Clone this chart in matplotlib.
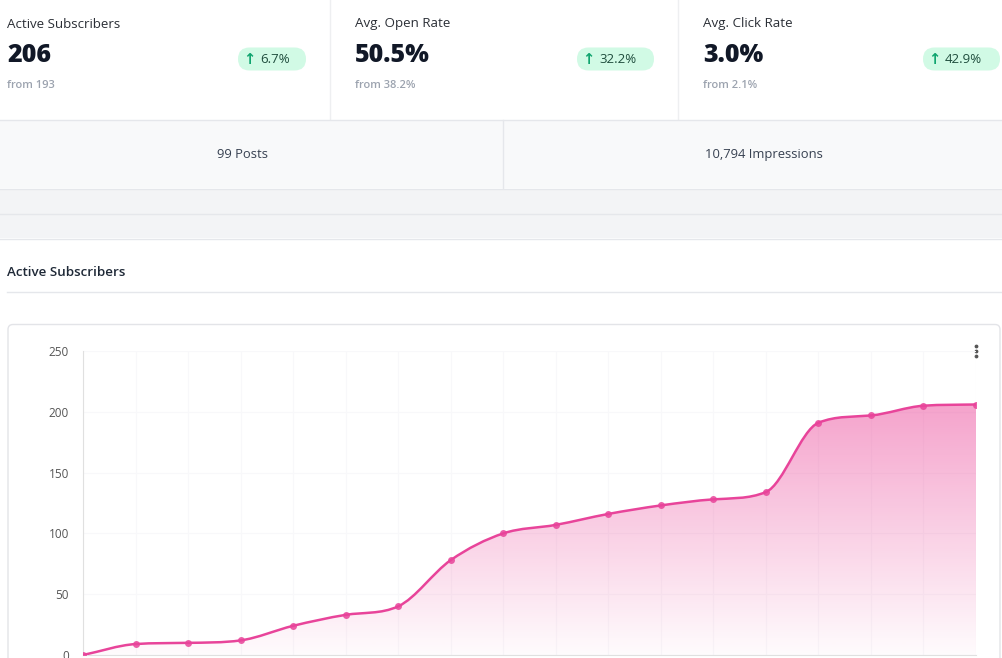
import numpy as np
import matplotlib
matplotlib.use("Agg")
import matplotlib.pyplot as plt
from matplotlib.patches import Rectangle, FancyBboxPatch, PathPatch
from matplotlib.path import Path

plt.rcParams['font.family'] = ['Open Sans', 'DejaVu Sans']

# --- data ---
card_titles = ["Active Subscribers", "Avg. Open Rate", "Avg. Click Rate"]
card_values = ["206", "50.5%", "3.0%"]
card_from = ["from 193", "from 38.2%", "from 2.1%"]
card_change = ["6.7%", "32.2%", "42.9%"]
summary_labels = ["99 Posts", "10,794 Impressions"]
chart_title = "Active Subscribers"

subscribers = [0, 9, 10, 12, 24, 33, 40, 78, 100, 107, 116, 123, 128, 134, 191, 197, 205, 206]
y_ticks = [0, 50, 100, 150, 200, 250]

PINK = "#e8449a"
W, H = 1002, 658

fig = plt.figure(figsize=(W / 100, H / 100), dpi=100)
fig.patch.set_facecolor("white")

# background axes in pixel coordinates for the dashboard chrome
bg = fig.add_axes([0, 0, 1, 1])
bg.set_xlim(0, W)
bg.set_ylim(H, 0)
bg.axis("off")

line_c = "#e5e7eb"

# top stat cards
card_x = [7, 355, 703]
badge_x = [(238, 306), (577, 654), (923, 1000)]
for i in range(3):
    x0 = card_x[i]
    bg.text(x0, 24, card_titles[i], fontsize=9.6, color="#2b2f36", va="center", ha="left")
    bg.text(x0, 56, card_values[i], fontsize=18, fontweight="heavy", color="#111827",
            va="center", ha="left")
    bg.text(x0, 85, card_from[i], fontsize=8, fontweight="semibold", color="#9ca3af",
            va="center", ha="left")
    bx0, bx1 = badge_x[i]
    pill = FancyBboxPatch((bx0, 47.5), bx1 - bx0, 23,
                          boxstyle="round,pad=0,rounding_size=11.5",
                          fc="#d1fae5", ec="none")
    bg.add_patch(pill)
    bg.text(bx0 + 11, 59.5, "↑", fontsize=10.5, fontweight="bold", color="#10a56f",
            va="center", ha="center", family="DejaVu Sans")
    bg.text(bx0 + 22, 59.5, card_change[i], fontsize=9.5, color="#1f4d3d",
            va="center", ha="left")
for xv in [330, 678]:
    bg.plot([xv, xv], [0, 119], color="#eeeff1", lw=1)
bg.plot([0, W], [119.5, 119.5], color=line_c, lw=1)

# summary row
bg.add_patch(Rectangle((0, 120), W, 68, fc="#f8f9fa", ec="none"))
bg.plot([503, 503], [120, 188], color=line_c, lw=1)
bg.text(243, 154.5, summary_labels[0], fontsize=9.4, color="#374151", ha="center", va="center")
bg.text(764, 154.5, summary_labels[1], fontsize=9.4, color="#374151", ha="center", va="center")
bg.plot([0, W], [188.5, 188.5], color=line_c, lw=1)

# gray band
bg.add_patch(Rectangle((0, 189), W, 49, fc="#f3f4f6", ec="none"))
bg.plot([0, W], [213.5, 213.5], color=line_c, lw=1)
bg.plot([0, W], [238.5, 238.5], color=line_c, lw=1)

# chart section heading
bg.text(7, 273, chart_title, fontsize=9.6, fontweight="semibold", color="#1f2937",
        va="center", ha="left")
bg.plot([7, W], [291.5, 291.5], color=line_c, lw=1)

# chart card
card = FancyBboxPatch((8, 324.5), 992, 360, boxstyle="round,pad=0,rounding_size=5",
                      fc="white", ec="#e3e4e8", lw=1)
bg.add_patch(card)

# menu dots
bg.scatter([976, 976, 976], [346, 351, 356], s=3, color="#555555", zorder=5)

# --- the chart itself ---
left, right = 83 / W, 976 / W
bottom, top = (H - 655) / H, (H - 351) / H
ax = fig.add_axes([left, bottom, right - left, top - bottom])
ax.set_facecolor("none")
n = len(subscribers)
xs = np.arange(n, dtype=float)
ys = np.array(subscribers, dtype=float)
ax.set_xlim(0, n - 1)
ax.set_ylim(0, 250)

# monotone cubic tangents for the smooth line
h = np.diff(xs)
d = np.diff(ys) / h
m = np.zeros(n)
m[0], m[-1] = d[0], d[-1]
for k in range(1, n - 1):
    if d[k - 1] * d[k] <= 0:
        m[k] = 0
    else:
        m[k] = (d[k - 1] + d[k]) / 2
for k in range(n - 1):
    if d[k] == 0:
        m[k] = m[k + 1] = 0
        continue
    a, b = m[k] / d[k], m[k + 1] / d[k]
    s = a * a + b * b
    if s > 9:
        t = 3 / np.sqrt(s)
        m[k] = t * a * d[k]
        m[k + 1] = t * b * d[k]

verts = [(xs[0], ys[0])]
codes = [Path.MOVETO]
for k in range(n - 1):
    dx = h[k] / 3
    verts += [(xs[k] + dx, ys[k] + m[k] * dx),
              (xs[k + 1] - dx, ys[k + 1] - m[k + 1] * dx),
              (xs[k + 1], ys[k + 1])]
    codes += [Path.CURVE4] * 3
line_path = Path(verts, codes)

fill_verts = verts + [(xs[-1], 0), (xs[0], 0), (xs[0], ys[0])]
fill_codes = codes + [Path.LINETO, Path.LINETO, Path.CLOSEPOLY]
fill_patch = PathPatch(Path(fill_verts, fill_codes), fc="none", ec="none")
ax.add_patch(fill_patch)

ymax = ys.max()
grad = np.linspace(0.02, 0.5, 256).reshape(-1, 1)
rgba = np.zeros((256, 1, 4))
rgba[..., 0], rgba[..., 1], rgba[..., 2] = 0.925, 0.28, 0.6
rgba[..., 3] = grad
img = ax.imshow(rgba, extent=[xs[0], xs[-1], 0, ymax], origin="lower",
                aspect="auto", zorder=1, interpolation="bilinear")
img.set_clip_path(fill_patch)

ax.add_patch(PathPatch(line_path, fc="none", ec=PINK, lw=1.8, zorder=3))
ax.plot(xs, ys, "o", ms=5, color=PINK, alpha=0.85, mec="none", zorder=4)

ax.set_xticks(xs)
ax.set_yticks(y_ticks)
ax.grid(True, color="#f8f8fa", lw=0.8, zorder=0)
ax.set_axisbelow(True)
ax.tick_params(axis="x", length=0, labelbottom=False)
ax.tick_params(axis="y", length=0, labelsize=8.5, labelcolor="#555555", pad=10)
for side in ["top", "right"]:
    ax.spines[side].set_visible(False)
ax.spines["left"].set_color("#e0e0e0")
ax.spines["bottom"].set_color("#e0e0e0")
ax.set_ylim(0, 250)

fig.savefig("out.png", dpi=100, facecolor="white")
